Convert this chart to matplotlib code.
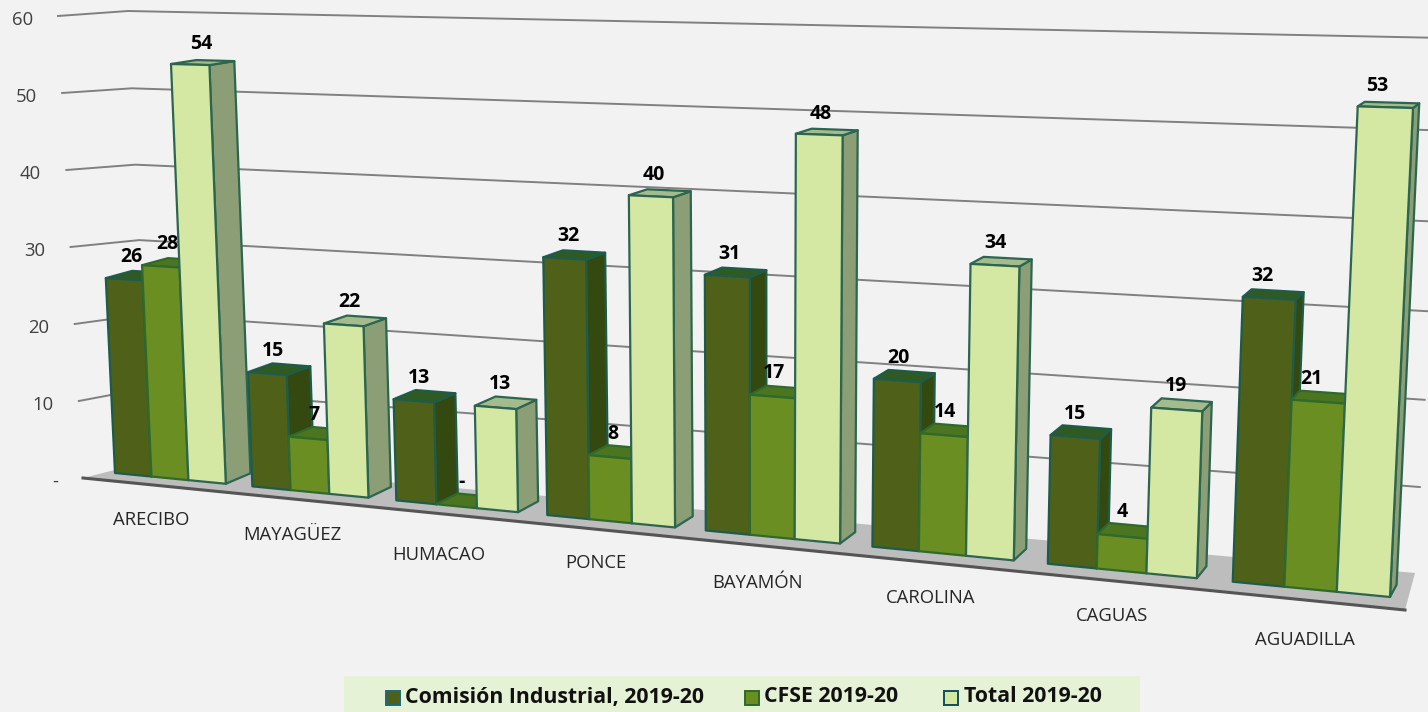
#!/usr/bin/env python3
"""Perspective column chart: Comision Industrial vs CFSE per region, 2019-20."""

import numpy as np
import matplotlib

matplotlib.use("Agg")
import matplotlib.pyplot as plt
from matplotlib.patches import Polygon, Rectangle

REGIONS = ["ARECIBO", "MAYAGÜEZ", "HUMACAO", "PONCE", "BAYAMÓN", "CAROLINA", "CAGUAS", "AGUADILLA"]
COMISION = [26, 15, 13, 32, 31, 20, 15, 32]
CFSE = [28, 7, 0, 8, 17, 14, 4, 21]
TOTAL = [54, 22, 13, 40, 48, 34, 19, 53]
SERIES_NAMES = ["Comisión Industrial, 2019-20", "CFSE 2019-20", "Total 2019-20"]
AXIS_TICKS = [0, 10, 20, 30, 40, 50, 60]

# layout: the picture is a warped 3D chart, so everything goes through homographies
BAR_W = 0.27
GAP = 0.095
DEPTH_T = 0.0155
VANISH = np.array([1815.0, -190.0])
REGION_LABEL_XY = [(151, 520), (292, 535), (439, 555), (596, 563), (758, 583), (931, 598), (1112, 616), (1305, 640)]

STYLES = [
    {"front": "#4f6118", "top": "#2f5a22", "side": "#33490f", "edge": "#1d5c4c", "key": "#1b6a80"},
    {"front": "#6b8e23", "top": "#4c7520", "side": "#4c7520", "edge": "#2f6a2a", "key": "#2f6a2a"},
    {"front": "#d4e8a4", "top": "#a3bb8d", "side": "#8c9e76", "edge": "#2d6650", "key": "#0f4f5c"},
]


def homography(src, dst):
    rows = []
    rhs = []
    for (x, y), (u, v) in zip(src, dst):
        rows.append([x, y, 1, 0, 0, 0, -u * x, -u * y])
        rows.append([0, 0, 0, x, y, 1, -v * x, -v * y])
        rhs += [u, v]
    return np.append(np.linalg.solve(np.array(rows, float), np.array(rhs, float)), 1.0).reshape(3, 3)


def apply(h, x, y):
    p = h @ np.array([x, y, 1.0])
    return p[:2] / p[2]


# front plane of the bars
BAR_H = homography(
    [(GAP, 0), (8 - GAP, 0), (GAP + 2 * BAR_W, 54), (8 - GAP, 53)],
    [(115, 473), (1390, 597), (171, 64), (1413, 108)],
)
# back wall with the gridlines
WALL_H = homography(
    [(0, 0), (8, 0), (0, 60), (8, 60)],
    [(150, 461), (1415, 573), (128, 11), (1445, 38)],
)


def to_back(p):
    return p + DEPTH_T * (VANISH - p)


def draw_bar(ax, x0, value, style):
    bl = apply(BAR_H, x0, 0)
    br = apply(BAR_H, x0 + BAR_W, 0)
    tl = apply(BAR_H, x0, value)
    tr = apply(BAR_H, x0 + BAR_W, value)
    kw = {"edgecolor": style["edge"], "linewidth": 1.6, "joinstyle": "round", "zorder": 3}
    ax.add_patch(Polygon([br, to_back(br), to_back(tr), tr], facecolor=style["side"], **kw))
    ax.add_patch(Polygon([tl, tr, to_back(tr), to_back(tl)], facecolor=style["top"], **kw))
    if value > 0:
        ax.add_patch(Polygon([bl, br, tr, tl], facecolor=style["front"], **kw))


def main():
    fig = plt.figure(figsize=(14.28, 7.12), dpi=100, facecolor="#f2f2f2")
    ax = fig.add_axes([0, 0, 1, 1])
    ax.set_xlim(0, 1428)
    ax.set_ylim(712, 0)
    ax.axis("off")
    plt.rcParams["font.family"] = ["Open Sans", "DejaVu Sans"]

    # gridlines: tick stub on the side wall, then along the back wall
    for v in AXIS_TICKS:
        frac = v / 60
        start = (83 + frac * (58 - 83), 478 + frac * (16 - 478))
        corner = apply(WALL_H, 0, v)
        end = apply(WALL_H, 8, v)
        if v > 0:
            ax.plot([start[0], corner[0], end[0]], [start[1], corner[1], end[1]], color="#808080", lw=1.4, zorder=1)
        ax.text(start[0] - 25, start[1] + 4, str(v) if v else "-", ha="right", va="center",
                fontsize=13.3, color="#404040")

    # floor
    ax.add_patch(Polygon([(83, 478), (1405, 610), (1415, 573), (150, 461)], facecolor="#bdbdbd",
                         edgecolor="none", zorder=2))
    ax.plot([83, 1405], [478, 610], color="#555555", lw=2.2, zorder=2)

    groups = [COMISION, CFSE, TOTAL]
    for i in range(len(REGIONS)):
        for s, values in enumerate(groups):
            x0 = i + GAP + s * BAR_W
            draw_bar(ax, x0, values[i], STYLES[s])

    # value labels sit on top of everything, the last cluster's drift further left
    for i in range(len(REGIONS)):
        for s, values in enumerate(groups):
            x0 = i + GAP + s * BAR_W
            top = apply(BAR_H, x0 + BAR_W / 2, values[i])
            top = top + 0.5 * DEPTH_T * (VANISH - top)
            label = str(values[i]) if values[i] else "-"
            dx = -11 if i == 7 else -6
            if i == 0 and s == 2:
                dx = -2
            ax.text(top[0] + dx, top[1] - 18.5, label, ha="center", va="center", fontsize=14,
                    fontweight="bold", color="black", zorder=20)

    for name, (x, y) in zip(REGIONS, REGION_LABEL_XY):
        ax.text(x, y, name, ha="center", va="center", fontsize=13.3, color="#262626")

    # legend strip
    ax.add_patch(Rectangle((344, 676), 796, 36, facecolor="#e6f2d5", edgecolor="none", zorder=3))
    for name, style, sq_x, text_x in zip(SERIES_NAMES, STYLES, [386, 745, 944], [405, 764, 964]):
        ax.add_patch(Rectangle((sq_x, 691), 14, 14, facecolor=style["front"], edgecolor=style["key"],
                               linewidth=1.4, zorder=4))
        ax.text(text_x, 697, name, ha="left", va="center", fontsize=15.3, fontweight="bold",
                color="#111111", zorder=5)

    fig.savefig("out.png", dpi=100, facecolor=fig.get_facecolor())
    plt.close(fig)


if __name__ == "__main__":
    main()
